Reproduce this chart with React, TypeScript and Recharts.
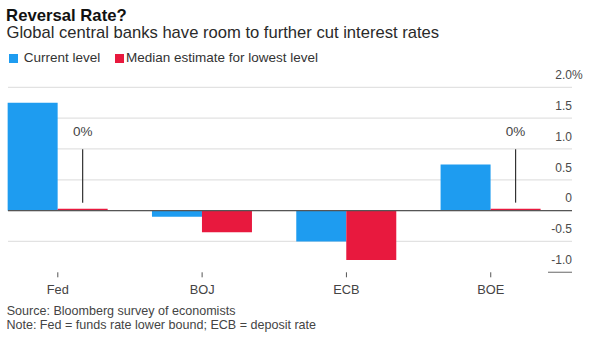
import React from 'react';
import { BarChart, Bar, XAxis, YAxis, CartesianGrid, ReferenceLine, LabelList } from 'recharts';

const banks = ['Fed', 'BOJ', 'ECB', 'BOE'];
const currentLevel = [1.75, -0.1, -0.5, 0.75];
const lowestEstimate = [0, -0.35, -0.8, 0];
const yTicks = [-1, -0.5, 0, 0.5, 1, 1.5, 2];
const yTickLabels = ['-1.0', '-0.5', '0', '0.5', '1.0', '1.5', '2.0'];
const seriesNames = ['Current level', 'Median estimate for lowest level'];
const title = 'Reversal Rate?';
const subtitle = 'Global central banks have room to further cut interest rates';
const footnotes = ['Source: Bloomberg survey of economists', 'Note: Fed = funds rate lower bound; ECB = deposit rate'];

const data = banks.map((bank, i) => ({ bank, current: currentLevel[i], low: lowestEstimate[i] }));

const W = 600;
const H = 343;
const BLUE = '#1E9CF0';
const RED = '#E8193E';
const FONT = '"Liberation Sans", Arial, Helvetica, sans-serif';
const YAXIS_W = 1;
const MARGIN = { top: 87.3, right: 37.1 - YAXIS_W, bottom: 40.7, left: -14.35 };
const XAXIS_H = 30;
const PLOT_BOTTOM = H - MARGIN.bottom - XAXIS_H;
const GRID_X = 8;
const GRID_RIGHT = 572;

const YTick = (props: any) => {
  const { y, payload } = props;
  const i = yTicks.indexOf(payload.value);
  const label = yTickLabels[i];
  return (
    <g>
      {i === 0 && (
        <line x1={548} x2={GRID_RIGHT} y1={y} y2={y} stroke="#8a8a8a" strokeWidth={1.3} />
      )}
      <text x={GRID_RIGHT} y={y - 8.3} textAnchor="end" fontSize={12} fill="#4a4a4a" fontFamily={FONT}>
        {label}
      </text>
      {i === yTicks.length - 1 && (
        <text x={GRID_RIGHT} y={y - 8.3} textAnchor="start" fontSize={12} fill="#4a4a4a" fontFamily={FONT}>
          %
        </text>
      )}
    </g>
  );
};

const gridLine = (p: any) => {
  if (p.y1 > PLOT_BOTTOM - 1) return <g key={p.key} />;
  return <line key={p.key} x1={p.x1} x2={p.x2} y1={p.y1} y2={p.y2} stroke="#e2e2e2" strokeWidth={1.2} />;
};

const ZeroNote = (p: any) => {
  const { x, y, width, height, value } = p;
  if (Number(value) !== 0) return null;
  const cx = Number(x) + Number(width) / 2;
  const zeroY = Math.max(Number(y), Number(y) + Number(height));
  return (
    <g>
      <line x1={cx} x2={cx} y1={zeroY - 61.4} y2={zeroY - 8} stroke="#333" strokeWidth={1.2} />
      <text x={cx} y={zeroY - 74.7} textAnchor="middle" fontSize={13.5} fill="#444" fontFamily={FONT}>
        {`${value}%`}
      </text>
    </g>
  );
};

export default function App() {
  return (
    <div style={{ position: 'absolute', left: 0, top: 0, width: W, height: H, fontFamily: FONT, background: '#fff' }}>
      <div style={{ position: 'absolute', left: 0, top: 0 }}>
        <BarChart width={W} height={H} data={data} margin={MARGIN} barGap={0} barSize={50}>
          <CartesianGrid vertical={false} x={GRID_X} width={GRID_RIGHT - GRID_X} horizontal={gridLine} />
          <XAxis
            dataKey="bank"
            axisLine={false}
            tickLine={{ stroke: '#555' }}
            tickSize={5}
            tickMargin={7.8}
            height={XAXIS_H}
            interval={0}
            tick={{ fontSize: 12.8, fill: '#444', fontFamily: FONT }}
          />
          <YAxis
            orientation="right"
            width={YAXIS_W}
            type="number"
            domain={[-1, 2]}
            ticks={yTicks}
            interval={0}
            axisLine={false}
            tickLine={false}
            tick={YTick}
          />
          <ReferenceLine
            y={0}
            shape={(p: any) => (
              <line x1={GRID_X} x2={GRID_RIGHT} y1={p.y1} y2={p.y2} stroke="#555" strokeWidth={1.2} />
            )}
          />
          <Bar dataKey="current" name={seriesNames[0]} fill={BLUE} isAnimationActive={false} />
          <Bar dataKey="low" name={seriesNames[1]} fill={RED} minPointSize={2} isAnimationActive={false}>
            <LabelList dataKey="low" content={ZeroNote} />
          </Bar>
        </BarChart>
      </div>
      <div style={{ position: 'absolute', left: 6.1, top: 7.56, fontSize: 16.7, lineHeight: '16.7px', fontWeight: 'bold', color: '#111', whiteSpace: 'nowrap' }}>
        {title}
      </div>
      <div style={{ position: 'absolute', left: 6.5, top: 25.25, fontSize: 16.6, lineHeight: '16.6px', color: '#2a2a2a', whiteSpace: 'nowrap' }}>
        {subtitle}
      </div>
      <div style={{ position: 'absolute', left: 9.3, top: 54, width: 9, height: 9, background: BLUE }} />
      <div style={{ position: 'absolute', left: 23.8, top: 51.27, fontSize: 13.5, lineHeight: '13.5px', color: '#333', whiteSpace: 'nowrap' }}>
        {seriesNames[0]}
      </div>
      <div style={{ position: 'absolute', left: 114.5, top: 54, width: 9, height: 9, background: RED }} />
      <div style={{ position: 'absolute', left: 126, top: 51.27, fontSize: 13.5, lineHeight: '13.5px', color: '#333', whiteSpace: 'nowrap' }}>
        {seriesNames[1]}
      </div>
      <div style={{ position: 'absolute', left: 6.7, top: 305.65, fontSize: 12.55, lineHeight: '11px', color: '#444', whiteSpace: 'nowrap' }}>
        {footnotes[0]}
      </div>
      <div style={{ position: 'absolute', left: 6.4, top: 319.75, fontSize: 12.55, lineHeight: '11px', color: '#444', whiteSpace: 'nowrap' }}>
        {footnotes[1]}
      </div>
    </div>
  );
}
